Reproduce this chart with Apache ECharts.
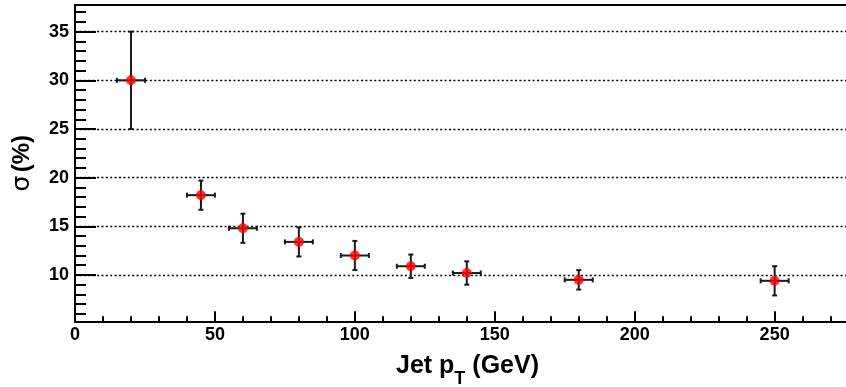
<!DOCTYPE html>
<html><head><meta charset="utf-8">
<script src="https://cdn.jsdelivr.net/npm/echarts@6/dist/echarts.min.js"></script>
<style>html,body{margin:0;padding:0;background:#fff}#c{width:846px;height:387px}</style>
</head><body><div id="c"></div>
<script>
// Data
const jetPt    = [20, 45, 60, 80, 100, 120, 140, 180, 250];
const sigma    = [30, 18.2, 14.8, 13.4, 12.0, 10.9, 10.2, 9.5, 9.4];
const sigmaErr = [5, 1.5, 1.5, 1.5, 1.5, 1.2, 1.2, 1.0, 1.5];
const ptErr    = [5, 5, 5, 5, 5, 5, 5, 5, 5];
// Ticks
const xMajorTicks = [0, 50, 100, 150, 200, 250];
const xMinorTicks = [10, 20, 30, 40, 60, 70, 80, 90, 110, 120, 130, 140, 160, 170, 180, 190, 210, 220, 230, 240, 260, 270];
const yMajorTicks = [10, 15, 20, 25, 30, 35];
const yMinorTicks = [6, 7, 8, 9, 11, 12, 13, 14, 16, 17, 18, 19, 21, 22, 23, 24, 26, 27, 28, 29, 31, 32, 33, 34, 36, 37];
const xRange = [0, 275.5];
const yRange = [5.24, 37.74];

const FONT = 'Liberation Sans';
const chart = echarts.init(document.getElementById('c'), null, {renderer: 'canvas'});

const errData = jetPt.map((x, i) => [x, sigma[i], ptErr[i], sigmaErr[i]]);
const ptsData = jetPt.map((x, i) => [x, sigma[i]]);

const lineStyle = {color: '#000', width: 2};

chart.setOption({
  animation: false,
  backgroundColor: '#fff',
  grid: {left: 75, right: 0, top: 5, bottom: 65.7, containLabel: false, outerBoundsMode: 'none'},
  xAxis: [
    {
      type: 'value', min: xRange[0], max: xRange[1], position: 'bottom',
      axisLine: {show: true, onZero: false, lineStyle},
      axisTick: {show: true, inside: true, length: 10, customValues: xMajorTicks, lineStyle},
      axisLabel: {customValues: xMajorTicks, fontFamily: FONT, fontWeight: 'bold', fontSize: 18, color: '#000', margin: 5},
      splitLine: {show: false},
      name: '{a|Jet p}{t|T}{a| (GeV)}',
      nameLocation: 'middle', nameGap: 32,
      nameTextStyle: {
        padding: [0, 0, 0, 14],
        rich: {
          a: {fontFamily: FONT, fontWeight: 'bold', fontSize: 25, color: '#000', lineHeight: 35, verticalAlign: 'top'},
          t: {fontFamily: FONT, fontWeight: 'bold', fontSize: 18, color: '#000', lineHeight: 35, verticalAlign: 'bottom'}
        }
      }
    },
    {
      type: 'value', min: xRange[0], max: xRange[1], position: 'bottom',
      axisLine: {show: false, onZero: false},
      axisTick: {show: true, inside: true, length: 5, customValues: xMinorTicks, lineStyle},
      axisLabel: {show: false},
      splitLine: {show: false}
    },
    {
      type: 'value', min: xRange[0], max: xRange[1], position: 'top',
      axisLine: {show: true, onZero: false, lineStyle},
      axisTick: {show: false}, axisLabel: {show: false}, splitLine: {show: false}
    }
  ],
  yAxis: [
    {
      type: 'value', min: yRange[0], max: yRange[1], position: 'left',
      axisLine: {show: true, onZero: false, lineStyle},
      axisTick: {show: true, inside: true, length: 21, customValues: yMajorTicks, lineStyle},
      axisLabel: {customValues: yMajorTicks, fontFamily: FONT, fontWeight: 'bold', fontSize: 18, color: '#000', margin: 6, padding: [4, 0, 0, 0]},
      splitLine: {show: true, lineStyle: {color: '#000', width: 1.3, type: [2, 2.4]}},
      name: '{s|σ} {b|(%)}',
      nameLocation: 'middle', nameRotate: 90, nameGap: 40,
      nameTextStyle: {
        rich: {
          s: {fontFamily: 'DejaVu Sans', fontSize: 25, color: '#000'},
          b: {fontFamily: FONT, fontWeight: 'bold', fontSize: 24, color: '#000'}
        }
      }
    },
    {
      type: 'value', min: yRange[0], max: yRange[1], position: 'left',
      axisLine: {show: false, onZero: false},
      axisTick: {show: true, inside: true, length: 11, customValues: yMinorTicks, lineStyle},
      axisLabel: {show: false},
      splitLine: {show: false}
    }
  ],
  series: [
    {
      type: 'custom', xAxisIndex: 0, yAxisIndex: 0,
      data: errData,
      encode: {x: 0, y: 1},
      z: 2,
      renderItem: function (params, api) {
        const x = api.value(0), y = api.value(1), ex = api.value(2), ey = api.value(3);
        const c = api.coord([x, y]);
        const top = api.coord([x, y + ey]);
        const bot = api.coord([x, y - ey]);
        const l = api.coord([x - ex, y]);
        const r = api.coord([x + ex, y]);
        const cap = 2.5;
        const style = {stroke: '#1a1a1a', lineWidth: 2};
        return {
          type: 'group',
          children: [
            {type: 'line', shape: {x1: c[0], y1: top[1], x2: c[0], y2: bot[1]}, style},
            {type: 'line', shape: {x1: c[0] - cap, y1: top[1], x2: c[0] + cap, y2: top[1]}, style},
            {type: 'line', shape: {x1: c[0] - cap, y1: bot[1], x2: c[0] + cap, y2: bot[1]}, style},
            {type: 'line', shape: {x1: l[0], y1: c[1], x2: r[0], y2: c[1]}, style},
            {type: 'line', shape: {x1: l[0], y1: c[1] - cap, x2: l[0], y2: c[1] + cap}, style},
            {type: 'line', shape: {x1: r[0], y1: c[1] - cap, x2: r[0], y2: c[1] + cap}, style}
          ]
        };
      }
    },
    {
      type: 'scatter', xAxisIndex: 0, yAxisIndex: 0,
      data: ptsData,
      symbol: 'circle', symbolSize: 10,
      itemStyle: {color: '#ff0000'},
      z: 3
    }
  ]
});
</script>
</body></html>
